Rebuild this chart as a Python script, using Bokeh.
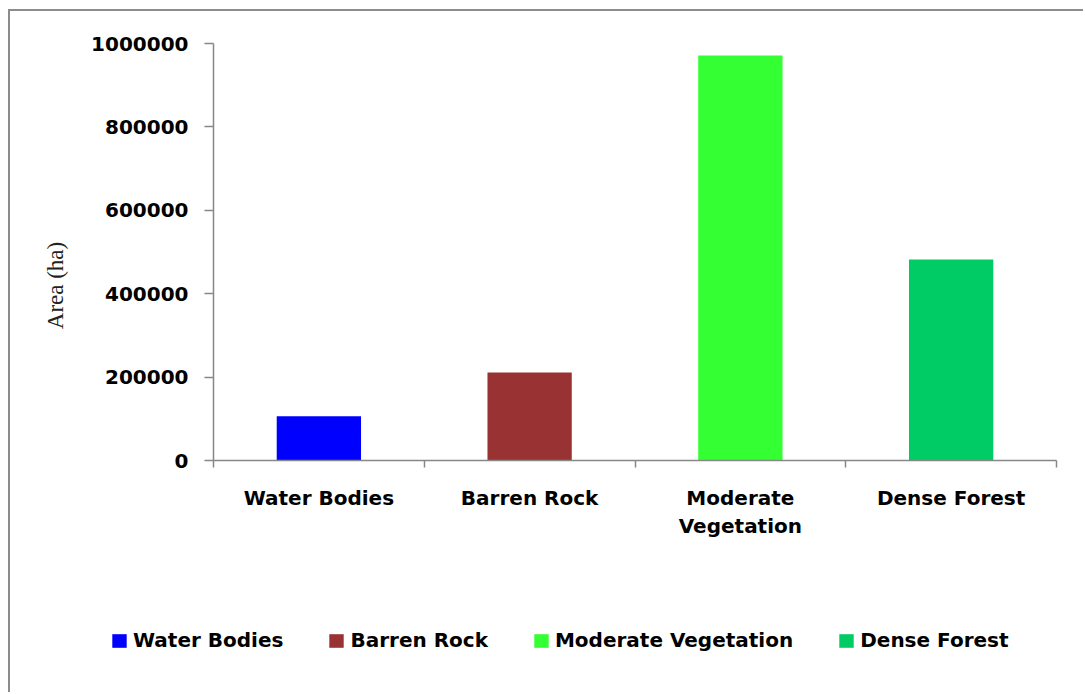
from bokeh.plotting import figure
from bokeh.models import (ColumnDataSource, FixedTicker, LinearAxis, Range1d,
                          Legend, LegendItem, Label, NumeralTickFormatter)
from bokeh.embed import file_html
from bokeh.resources import INLINE

# Land-cover classes and their area in hectares
categories = ["Water Bodies", "Barren Rock", "Moderate Vegetation", "Dense Forest"]
axis_labels = ["Water Bodies", "Barren Rock", "Moderate\nVegetation", "Dense Forest"]
area_ha = [106000, 211000, 971000, 482000]
colors = ["#0000FF", "#993333", "#33FF33", "#00CC66"]
y_ticks = [0, 200000, 400000, 600000, 800000, 1000000]
y_max = 1000000

# Canvas layout (pixels): the whole canvas is the plot frame and the axes are
# pinned at x=0 / y=0, so the title and legend can sit in the white margin.
W, H = 1075, 683
AXIS_LEFT_PX, AXIS_RIGHT_PX = 203, 1046     # x = 0 and x = n_categories
AXIS_TOP_PX, AXIS_ZERO_PX = 32, 449         # y = y_max and y = 0 (from top)

n = len(categories)
px_per_cat = (AXIS_RIGHT_PX - AXIS_LEFT_PX) / n
px_per_unit_y = (AXIS_ZERO_PX - AXIS_TOP_PX) / y_max
x_range = Range1d(-AXIS_LEFT_PX / px_per_cat, n + (W - AXIS_RIGHT_PX) / px_per_cat)
y_range = Range1d(-(H - AXIS_ZERO_PX) / px_per_unit_y, y_max + AXIS_TOP_PX / px_per_unit_y)

positions = [i + 0.5 for i in range(n)]
source = ColumnDataSource(dict(x=positions, top=area_ha, color=colors, name=categories))

FONT = "DejaVu Sans"
AXIS_GREY = "#878787"

p = figure(width=W, height=H, output_backend="svg", toolbar_location=None,
           x_range=x_range, y_range=y_range, x_axis_type=None, y_axis_type=None,
           min_border=0, min_border_left=0, min_border_right=0,
           min_border_top=0, min_border_bottom=0)
p.styles = {"margin-left": "8px", "margin-top": "9px",
            "border-left": "2px solid #8c8c8c", "border-top": "2px solid #8c8c8c"}
p.outline_line_color = None
p.grid.visible = False
p.background_fill_color = "white"
p.border_fill_color = "white"

bars = p.vbar(x="x", top="top", width=0.4, bottom=0, color="color",
              line_color=None, source=source)

# value axis
yaxis = LinearAxis(ticker=FixedTicker(ticks=y_ticks), fixed_location=0,
                   bounds=(0, y_max), formatter=NumeralTickFormatter(format="0"))
yaxis.axis_line_color = AXIS_GREY
yaxis.axis_line_width = 1.5
yaxis.major_tick_line_color = AXIS_GREY
yaxis.major_tick_line_width = 1.5
yaxis.major_tick_out = 9
yaxis.major_tick_in = 0
yaxis.minor_tick_line_color = None
yaxis.major_label_standoff = 16
yaxis.major_label_text_font = FONT
yaxis.major_label_text_font_style = "bold"
yaxis.major_label_text_font_size = "20px"
yaxis.major_label_text_color = "black"
p.add_layout(yaxis, "left")

# category axis: labels under the bars, tick marks between categories
xaxis = LinearAxis(ticker=FixedTicker(ticks=positions, minor_ticks=list(range(n + 1))),
                   fixed_location=0, bounds=(0, n))
xaxis.major_label_overrides = {pos: lab for pos, lab in zip(positions, axis_labels)}
xaxis.axis_line_color = AXIS_GREY
xaxis.axis_line_width = 1.5
xaxis.major_tick_line_color = None
xaxis.major_tick_out = 0
xaxis.major_tick_in = 0
xaxis.minor_tick_line_color = AXIS_GREY
xaxis.minor_tick_line_width = 1.5
xaxis.minor_tick_out = 7
xaxis.minor_tick_in = 0
xaxis.major_label_standoff = 18
xaxis.major_label_text_font = FONT
xaxis.major_label_text_font_style = "bold"
xaxis.major_label_text_font_size = "20px"
xaxis.major_label_text_color = "black"
p.add_layout(xaxis, "below")

# vertical title of the value axis
ylabel = Label(x=(45 - AXIS_LEFT_PX) / px_per_cat, y=(AXIS_ZERO_PX - 274) / px_per_unit_y,
               text="Area (ha)", angle=90, angle_units="deg",
               text_font="Liberation Serif", text_font_size="23px",
               text_color="#222222", text_align="center", text_baseline="middle")
p.add_layout(ylabel)

legend_items = [LegendItem(label=name, renderers=[bars], index=i)
                for i, name in enumerate(categories)]
legend = Legend(items=legend_items, orientation="horizontal", location=(100, 42))
legend.padding = 0
legend.margin = 0
legend.spacing = 44
legend.glyph_width = 18
legend.glyph_height = 17
legend.label_standoff = 5
legend.label_text_font = FONT
legend.label_text_font_style = "bold"
legend.label_text_font_size = "20px"
legend.label_text_color = "black"
legend.border_line_color = None
legend.background_fill_alpha = 0
p.add_layout(legend, "center")

open("out.html", "w").write(file_html(p, INLINE))
